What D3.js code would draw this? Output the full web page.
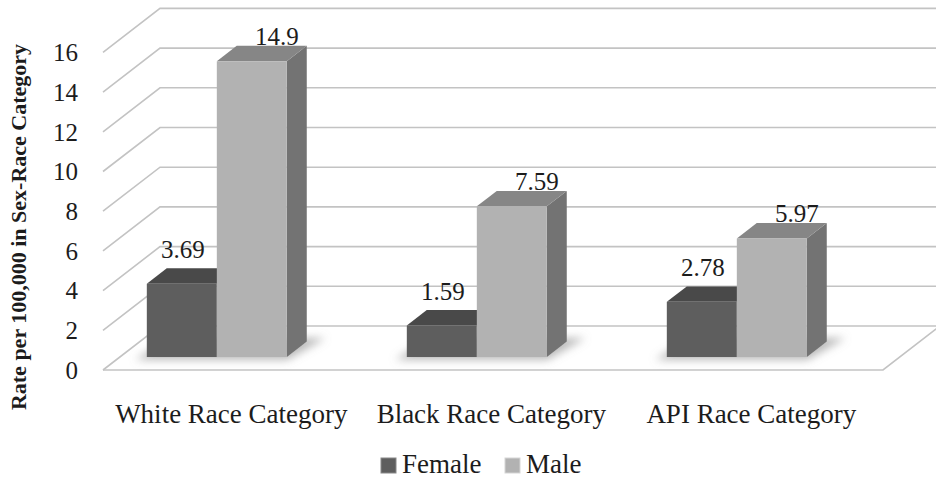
<!DOCTYPE html>
<html><head><meta charset="utf-8">
<script src="https://cdn.jsdelivr.net/npm/d3@7/dist/d3.min.js"></script>
<style>
html,body{margin:0;padding:0;background:#fff;}
svg{display:block;}
</style></head>
<body>
<svg id="chart" width="936" height="483"></svg>
<script>
const categories = ["White Race Category", "Black Race Category", "API Race Category"];
const seriesNames = ["Female", "Male"];
const femaleValues = [3.69, 1.59, 2.78];
const maleValues = [14.9, 7.59, 5.97];
const yTicks = [0, 2, 4, 6, 8, 10, 12, 14, 16];
const yTitle = "Rate per 100,000 in Sex-Race Category";

const W = 936, H = 483;
const svg = d3.select("#chart");
const serif = "'Liberation Serif','Times New Roman',serif";
const textCol = "#1c1c1c";

// 3D projection parameters
const DX = 57, DY = 44;          // depth offset (full floor depth)
const floorX0 = 103, floorX1 = 883;
const y = d3.scaleLinear().domain([0, 16]).range([370, 370 - 16 * 19.85]);
const proj = (xw, v, z) => [xw + z * DX, y(v) - z * DY];
const zf = 0.295, zb = 0.645;    // bar front/back depth

const x0 = d3.scaleBand().domain(categories).range([70, 850]).paddingInner(1 - 140 / 260).paddingOuter((1 - 140 / 260) / 2);
const x1 = d3.scaleBand().domain(seriesNames).range([0, x0.bandwidth()]);

const data = categories.map((c, i) => ({cat: c, vals: [
  {s: "Female", v: femaleValues[i]}, {s: "Male", v: maleValues[i]}]}));

const colors = {
  Female: {front: "#5e5e5e", top: "#494949", side: "#444444"},
  Male: {front: "#b2b2b2", top: "#868686", side: "#737373"}
};

const defs = svg.append("defs");
defs.append("filter").attr("id", "blur").attr("x", "-20%").attr("y", "-50%").attr("width", "140%").attr("height", "200%")
  .append("feGaussianBlur").attr("stdDeviation", 4);

const grid = svg.append("g").attr("fill", "none").attr("stroke", "#c3c3c3").attr("stroke-width", 1.6);
const line = d3.line();
// side wall diagonals + back wall gridlines
yTicks.forEach(t => {
  const a = proj(floorX0, t, 0), b = proj(floorX0, t, 1), c = [W + 10, b[1]];
  grid.append("path").attr("d", line([a, b, c]));
});
// floor front and right edges
grid.append("path").attr("d", line([proj(floorX0, 0, 0), proj(floorX1, 0, 0), proj(floorX1, 0, 1)]));

// tick labels
svg.append("g").selectAll("text").data(yTicks).join("text")
  .attr("x", 78).attr("y", d => y(d)).attr("dy", "0.35em")
  .attr("text-anchor", "end").attr("font-family", serif).attr("font-size", 25).attr("fill", textCol)
  .text(d => d);

// shadows
const shadowG = svg.append("g").attr("filter", "url(#blur)");
data.forEach(d => {
  const gx = x0(d.cat), gw = x0.bandwidth();
  const pts = [proj(gx - 8, 0, zf - 0.06), proj(gx + gw + 4, 0, zf - 0.06), proj(gx + gw + 14, 0, zb + 0.08), proj(gx - 2, 0, zb + 0.08)];
  shadowG.append("path").attr("d", line(pts) + "Z").attr("fill", "#8a8a8a").attr("opacity", 0.6);
});

// bars
const barsG = svg.append("g");
data.forEach(d => {
  d.vals.forEach(b => {
    const bx = x0(d.cat) + x1(b.s), bw = x1.bandwidth(), c = colors[b.s];
    const g = barsG.append("g");
    g.append("path").attr("fill", c.side)
      .attr("d", line([proj(bx + bw, 0, zf), proj(bx + bw, b.v, zf), proj(bx + bw, b.v, zb), proj(bx + bw, 0, zb)]) + "Z");
    g.append("path").attr("fill", c.top)
      .attr("d", line([proj(bx, b.v, zf), proj(bx + bw, b.v, zf), proj(bx + bw, b.v, zb), proj(bx, b.v, zb)]) + "Z");
    const p0 = proj(bx, b.v, zf), p1 = proj(bx + bw, 0, zf);
    g.append("rect").attr("x", p0[0]).attr("y", p0[1]).attr("width", p1[0] - p0[0]).attr("height", p1[1] - p0[1]).attr("fill", c.front);
  });
});

// value labels
const labG = svg.append("g").attr("font-family", serif).attr("font-size", 25).attr("fill", textCol).attr("text-anchor", "middle");
data.forEach(d => {
  d.vals.forEach(b => {
    const bx = x0(d.cat) + x1(b.s), bw = x1.bandwidth();
    const front = proj(bx + bw / 2, b.v, zf), back = proj(bx + bw / 2, b.v, zb);
    const isMale = b.s === "Male";
    labG.append("text")
      .attr("x", front[0] + (isMale ? 25 : 1))
      .attr("y", back[1] - (isMale ? 1 : 10))
      .text(b.v);
  });
});

// category labels
svg.append("g").selectAll("text").data(categories).join("text")
  .attr("x", d => x0(d) + x0.bandwidth() / 2 + DX * 0.55)
  .attr("y", 423)
  .attr("text-anchor", "middle").attr("font-family", serif).attr("font-size", 27).attr("fill", textCol)
  .text(d => d);

// y title
svg.append("text")
  .attr("transform", "translate(26,227) rotate(-90)")
  .attr("text-anchor", "middle").attr("font-family", serif).attr("font-weight", "bold").attr("font-size", 22).attr("fill", textCol)
  .text(yTitle);

// legend
const legendX = [381, 505];
const leg = svg.append("g");
seriesNames.forEach((s, i) => {
  leg.append("rect").attr("x", legendX[i]).attr("y", 458).attr("width", 15).attr("height", 15)
    .attr("fill", colors[s].front).attr("stroke", i === 0 ? "#888" : "#d5d5d5").attr("stroke-width", 1);
  leg.append("text").attr("x", legendX[i] + 21).attr("y", 473)
    .attr("font-family", serif).attr("font-size", 27).attr("fill", textCol).text(s);
});
</script>
</body></html>
